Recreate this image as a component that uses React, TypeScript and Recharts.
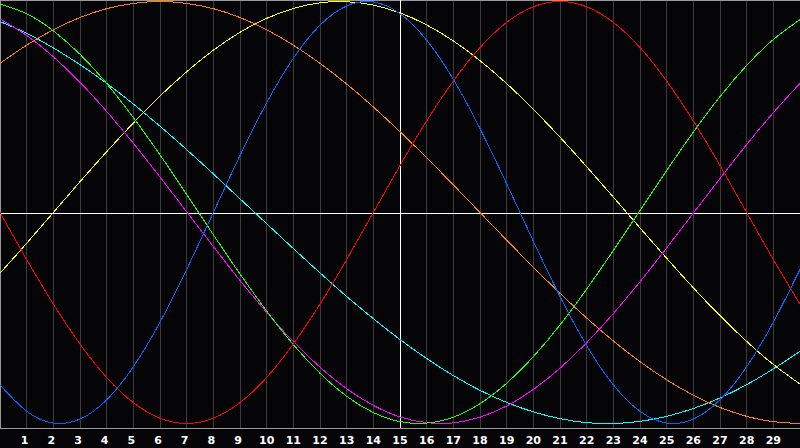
import React from 'react';
import { LineChart, Line, XAxis, YAxis, CartesianGrid, ReferenceLine } from 'recharts';

const days = [0, 1, 2, 3, 4, 5, 6, 7, 8, 9, 10, 11, 12, 13, 14, 15, 16, 17, 18, 19, 20, 21, 22, 23, 24, 25, 26, 27, 28, 29, 30];
const tickDays = [1, 2, 3, 4, 5, 6, 7, 8, 9, 10, 11, 12, 13, 14, 15, 16, 17, 18, 19, 20, 21, 22, 23, 24, 25, 26, 27, 28, 29];

const blueSeries = [-81.7, -94.2, -99.8, -97.9, -88.8, -73.1, -52.0, -27.0, 0, 27.0, 52.0, 73.1, 88.8, 97.9, 99.8, 94.2, 81.7, 63.1, 39.8, 13.6, -13.6, -39.8, -63.1, -81.7, -94.2, -99.8, -97.9, -88.8, -73.1, -52.0, -27.0];
const redSeries = [0, -22.3, -43.4, -62.3, -78.2, -90.1, -97.5, -100, -97.5, -90.1, -78.2, -62.3, -43.4, -22.3, 0, 22.3, 43.4, 62.3, 78.2, 90.1, 97.5, 100, 97.5, 90.1, 78.2, 62.3, 43.4, 22.3, 0, -22.3, -43.4];
const greenSeries = [98.8, 94.2, 86.1, 75.0, 61.1, 45.0, 27.3, 8.6, -10.5, -29.1, -46.7, -62.6, -76.2, -87.1, -94.8, -99.1, -99.8, -97.0, -90.6, -80.9, -68.3, -53.3, -36.3, -18.0, 1.0, 19.9, 38.1, 54.9, 69.7, 82.0, 91.4];
const magentaSeries = [91.7, 83.9, 73.8, 61.7, 47.9, 32.8, 16.8, 0.3, -16.1, -32.2, -47.3, -61.2, -73.3, -83.5, -91.4, -96.9, -99.6, -99.7, -97.0, -91.7, -83.9, -73.8, -61.7, -47.9, -32.8, -16.8, -0.3, 16.1, 32.2, 47.3, 61.2];
const yellowSeries = [-28.8, -14.6, 0, 14.6, 28.8, 42.4, 55.2, 66.7, 76.9, 85.4, 92.0, 96.7, 99.4, 99.9, 98.3, 94.6, 88.9, 81.3, 72.0, 61.1, 48.9, 35.7, 21.7, 7.3, -7.3, -21.7, -35.7, -48.9, -61.1, -72.0, -81.3];
const orangeSeries = [70.7, 79.3, 86.6, 92.4, 96.6, 99.1, 100, 99.1, 96.6, 92.4, 86.6, 79.3, 70.7, 60.9, 50.0, 38.3, 25.9, 13.1, 0, -13.1, -25.9, -38.3, -50.0, -60.9, -70.7, -79.3, -86.6, -92.4, -96.6, -99.1, -100];
const cyanSeries = [90.5, 84.9, 78.0, 70.1, 61.2, 51.4, 40.9, 29.8, 18.3, 6.5, -5.3, -17.1, -28.6, -39.8, -50.3, -60.2, -69.2, -77.3, -84.3, -90.0, -94.5, -97.7, -99.6, -100.0, -99.0, -96.6, -92.9, -87.9, -81.6, -74.1, -65.8];

const data = days.map((d, i) => ({
  day: d,
  blue: blueSeries[i],
  red: redSeries[i],
  green: greenSeries[i],
  magenta: magentaSeries[i],
  yellow: yellowSeries[i],
  orange: orangeSeries[i],
  cyan: cyanSeries[i],
}));

const series = [
  { key: 'cyan', color: '#00ffff' },
  { key: 'orange', color: '#ff8000' },
  { key: 'yellow', color: '#ffff00' },
  { key: 'magenta', color: '#ff00ff' },
  { key: 'green', color: '#22ff00' },
  { key: 'red', color: '#ff0000' },
  { key: 'blue', color: '#0066ff' },
];

const Y_TOP = 100.71;
const Y_BOTTOM = -102.13;

const DayTick = (props: any) => {
  const { x, y, payload } = props;
  const v = payload.value;
  const dx = v < 10 ? -2 : 0;
  return (
    <text
      x={x + dx}
      y={y}
      dy="0.71em"
      textAnchor="middle"
      fill="#ffffff"
      fontFamily="DejaVu Sans"
      fontWeight="bold"
      fontSize={11}
    >
      {v}
    </text>
  );
};

export default function App() {
  return (
    <div style={{ position: 'absolute', left: 0, top: 0, width: 800, height: 448, background: '#050508' }}>
      <LineChart width={800} height={448} data={data} margin={{ top: 0, right: 0, bottom: 0, left: 0 }}>
        <CartesianGrid horizontal={false} stroke="#3c3c3c" shapeRendering="crispEdges" />
        <XAxis
          dataKey="day"
          type="number"
          domain={[0, 30]}
          ticks={tickDays}
          interval={0}
          height={20}
          tickLine={false}
          axisLine={{ stroke: '#999999', shapeRendering: 'crispEdges' }}
          tick={<DayTick />}
        />
        <YAxis hide domain={[Y_BOTTOM, Y_TOP]} type="number" allowDataOverflow />
        <ReferenceLine x={0} stroke="#999999" shapeRendering="crispEdges" />
        <ReferenceLine y={Y_TOP} stroke="#999999" shapeRendering="crispEdges" />
        <ReferenceLine x={15} stroke="#ffffff" shapeRendering="crispEdges" />
        <ReferenceLine y={-0.7} stroke="#ffffff" shapeRendering="crispEdges" />
        {series.map((s) => (
          <Line
            key={s.key}
            type="natural"
            dataKey={s.key}
            stroke={s.color}
            strokeWidth={1}
            dot={false}
            activeDot={false}
            isAnimationActive={false}
            shapeRendering="crispEdges"
          />
        ))}
      </LineChart>
    </div>
  );
}
